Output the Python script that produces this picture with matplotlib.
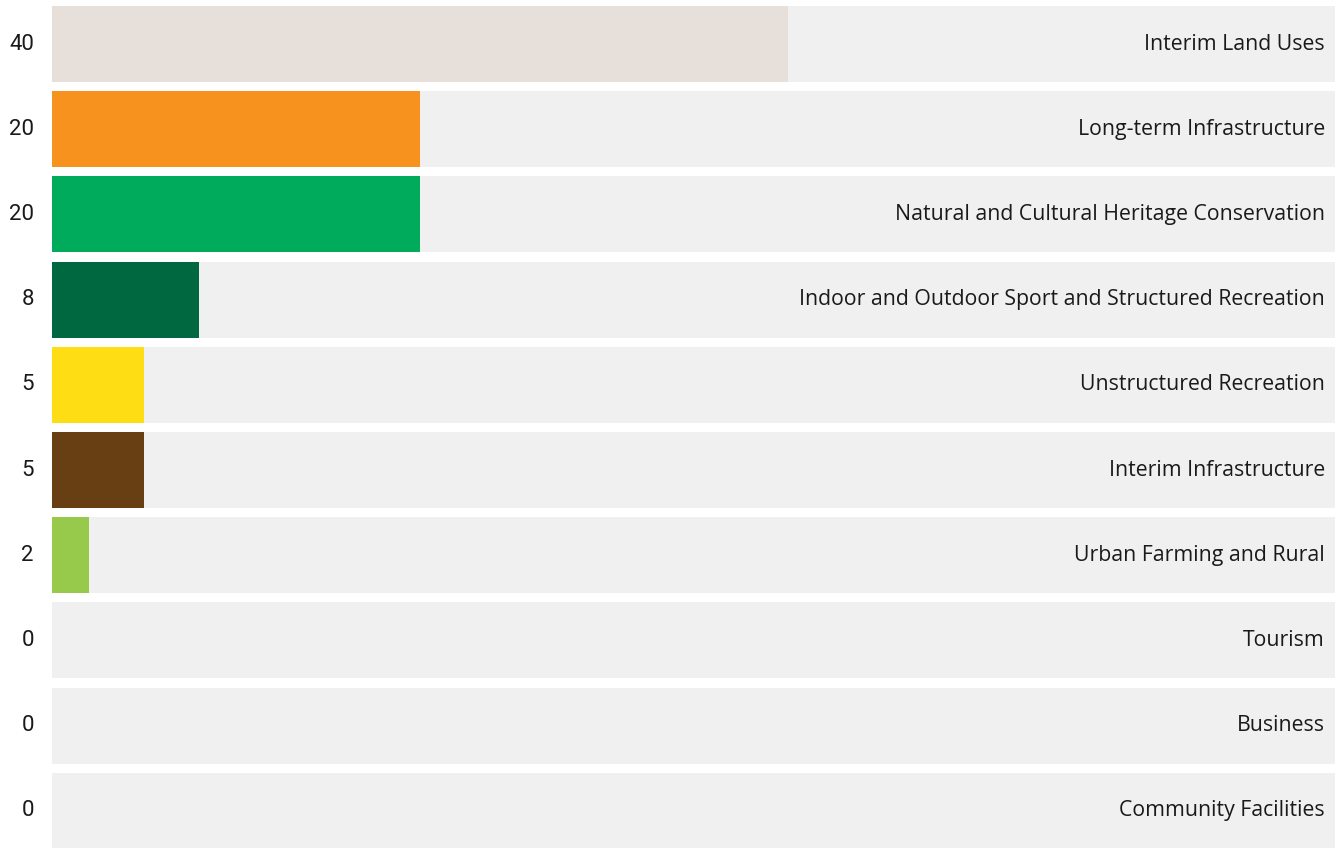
import matplotlib
matplotlib.use("Agg")
import matplotlib.pyplot as plt
from matplotlib.transforms import blended_transform_factory

categories = ["Interim Land Uses", "Long-term Infrastructure",
              "Natural and Cultural Heritage Conservation",
              "Indoor and Outdoor Sport and Structured Recreation",
              "Unstructured Recreation", "Interim Infrastructure",
              "Urban Farming and Rural", "Tourism", "Business", "Community Facilities"]
values = [40, 20, 20, 8, 5, 5, 2, 0, 0, 0]
colors = ["#E7DFD9", "#F7921E", "#00AB5B", "#006840", "#FFDD15", "#673F13",
          "#97C94A", "#97C94A", "#97C94A", "#97C94A"]
scale_max = 69.73

W, H = 1341, 848
fig = plt.figure(figsize=(W/100, H/100), dpi=100)
ax = fig.add_axes([52/W, 0, 1283/W, 1])
ax.set_xlim(0, scale_max)
ax.set_ylim((H-44)/85.2, -44/85.2)
ax.axis("off")

ys = list(range(len(categories)))
ax.barh(ys, [scale_max]*len(ys), height=0.892, color="#F0F0F0", left=0)
ax.barh(ys, values, height=0.892, color=colors)

tr = blended_transform_factory(fig.transFigure, ax.transData)
for y, v, c in zip(ys, values, categories):
    ax.text(34/W, y, str(v), transform=tr, ha="right", va="center",
            fontsize=16, family="Roboto", color="#1a1a1a")
    ax.text(1325/W, y, c, transform=tr, ha="right", va="center",
            fontsize=15.3, family="Open Sans", color="#1a1a1a")

fig.savefig("out.png", dpi=100)
